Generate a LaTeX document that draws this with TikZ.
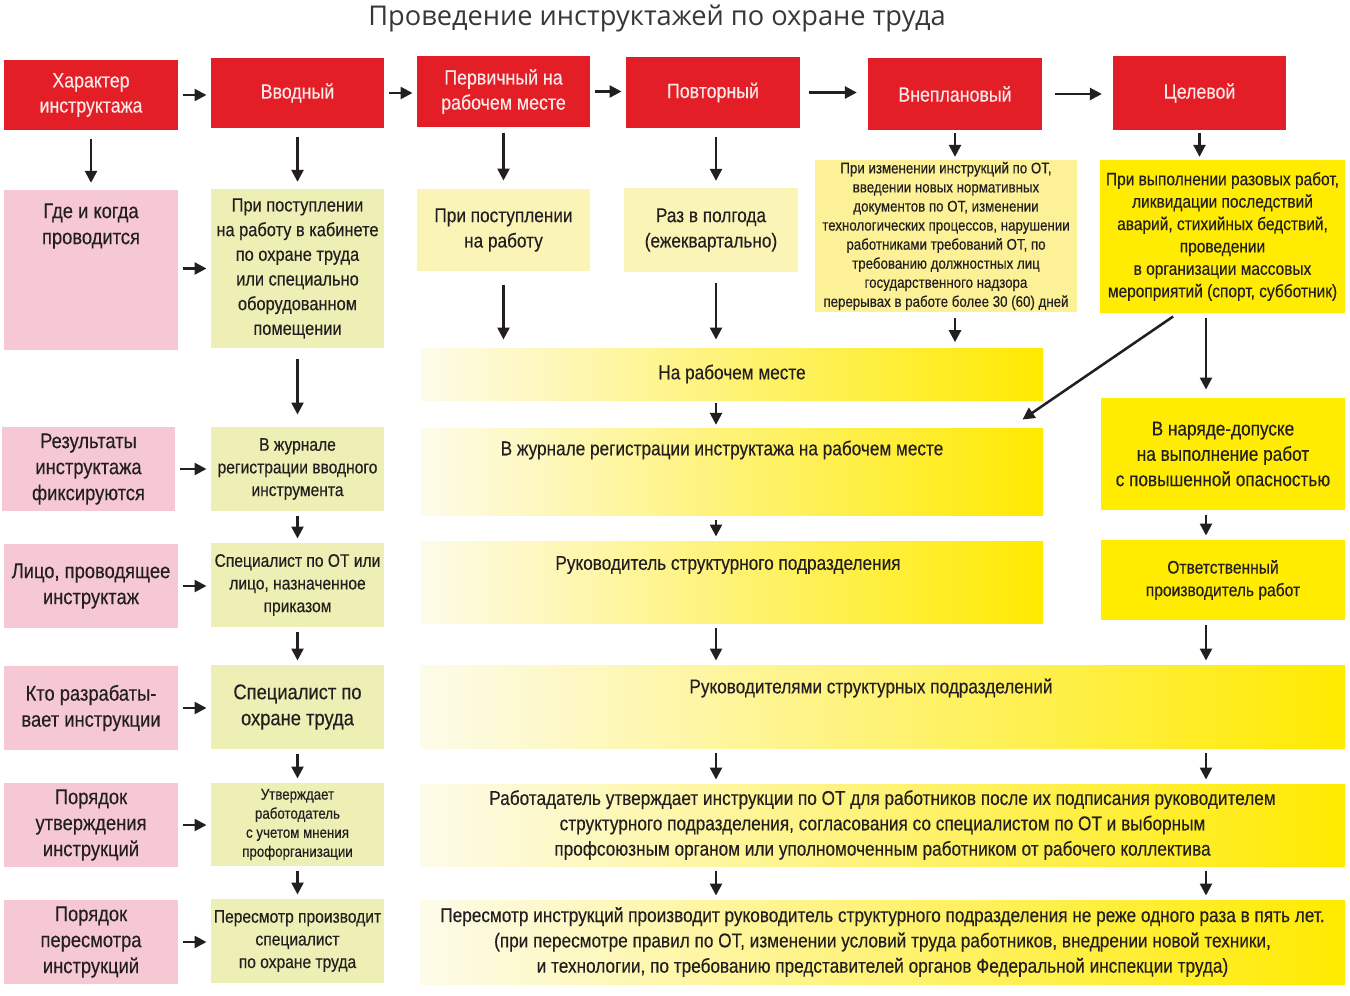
\documentclass[tikz,border=0pt]{standalone}
\usepackage{fontspec}
\setmainfont{Liberation Sans}[FakeStretch=0.86,FakeBold=0.3]
\newfontfamily\titlefont{Open Sans}
\usetikzlibrary{arrows.meta,calc}

\definecolor{redbg}{RGB}{228,30,38}
\definecolor{redtxt}{RGB}{252,232,232}
\definecolor{pinkbg}{RGB}{245,200,212}
\definecolor{greenbg}{RGB}{237,239,180}
\definecolor{paleY}{RGB}{250,244,182}
\definecolor{midY}{RGB}{252,241,150}
\definecolor{brightY}{RGB}{255,236,0}
\definecolor{gL}{RGB}{253,251,234}
\definecolor{gM}{RGB}{249,243,175}
\definecolor{gR}{RGB}{255,234,0}
\definecolor{txt}{RGB}{35,31,32}

\newcommand\fred{\fontsize{15.5}{18.8}\selectfont}
\newcommand\fpink{\fontsize{16}{19.5}\selectfont}
\newcommand\fbody{\fontsize{15}{19}\selectfont}
\newcommand\fgreen{\fontsize{14.3}{18.5}\selectfont}
\newcommand\fmid{\fontsize{13.6}{17}\selectfont}
\newcommand\fcel{\fontsize{13.5}{16.8}\selectfont}
\newcommand\fsmall{\fontsize{11.6}{14.3}\selectfont}

\tikzset{every picture/.style={line width=0.75pt}}
\tikzset{
  sz/.style 2 args={minimum width=#1*0.75pt, minimum height=#2*0.75pt},
  box/.style={inner sep=0pt, align=center, text=txt},
  redbox/.style={box, fill=redbg, text=redtxt, font=\fred},
  pinkbox/.style={box, fill=pinkbg, font=\fpink},
  greenbox/.style={box, fill=greenbg, font=\fgreen},
  palebox/.style={box, fill=paleY, font=\fbody},
  yelbox/.style={box, fill=brightY, font=\fbody},
  gradbox/.style={box, left color=gL, middle color=gM, right color=gR, font=\fbody},
  txtnode/.style={inner sep=0pt, align=center, text=txt, font=\fbody},
  arr/.style={line width=1.9pt, draw=txt, -{Triangle[length=9pt,width=9pt]}, shorten <=3pt, shorten >=3pt},
}

\begin{document}
\begin{tikzpicture}[x=0.75pt,y=0.75pt,yscale=-1,xscale=1]
	\fill[white] (0,0) rectangle (1350,996);
	\useasboundingbox (0,0) rectangle (1350,996);

	% Title
	\node[text={rgb,255:red,55;green,55;blue,55}, font=\titlefont\fontsize{20.4}{23}\selectfont] (title) at (657,18) {Проведение инструктажей по охране труда};

	% columns for arrows into the wide boxes
	\coordinate (k1) at (716,0);
	\coordinate (k2) at (1206,0);

	% Red header row
	\node[redbox, sz={174}{70}] (xar) at (91,95) {Характер\\инструктажа};
	\node[redbox, sz={173}{70}] (vvod) at (297.5,93) {Вводный};
	\node[redbox, sz={173}{71}] (perv) at (503.5,91.5) {Первичный на\\рабочем месте};
	\node[redbox, sz={174}{71}] (povt) at (713,92.5) {Повторный};
	\node[redbox, sz={174}{72}] (vnep) at (955,94) {Внеплановый};
	\node[redbox, sz={173}{74}] (cel) at (1199.5,93) {Целевой};

	% Where and when
	\node[pinkbox, sz={174}{160}] (gde) at (91,270) {};
	\node[txtnode, font=\fpink] (gdeT) at (91,226) {Где и когда\\проводится};
	\node[greenbox, sz={173}{159}] (vvodG) at (297.5,268.5) {При поступлении\\на работу в кабинете\\по охране труда\\или специально\\оборудованном\\помещении};
	\node[palebox, sz={173}{82}] (pervY) at (503.5,230) {При поступлении\\на работу};
	\node[palebox, sz={174}{84}] (povtY) at (711,230) {Раз в полгода\\(ежеквартально)};
	\node[box, fill=midY, font=\fsmall, sz={262}{152}] (vnepY) at (946,236) {При изменении инструкций по ОТ,\\введении новых нормативных\\документов по ОТ, изменении\\технологических процессов, нарушении\\работниками требований ОТ, по\\требованию должностных лиц\\государственного надзора\\перерывах в работе более 30 (60) дней};
	\node[yelbox, font=\fcel, sz={245}{153}] (celY) at (1222.5,236.5) {При выполнении разовых работ,\\ликвидации последствий\\аварий, стихийных бедствий,\\проведении\\в организации массовых\\мероприятий (спорт, субботник)};

	\node[gradbox, sz={622}{52}] (rm) at (732,374) {На рабочем месте};
	\node[yelbox, sz={244}{112}] (naryad) at (1223,454) {В наряде-допуске\\на выполнение работ\\с повышенной опасностью};

	% Results
	\node[pinkbox, sz={173}{84}] (rez) at (88.5,469) {Результаты\\инструктажа\\фиксируются};
	\node[greenbox, font=\fmid, sz={173}{84}] (zhurV) at (297.5,469) {В журнале\\регистрации вводного\\инструмента};
	\node[gradbox, sz={622}{87}] (zhur) at (732,471.5) {};
	\node[txtnode] (zhurT) at (722,450) {В журнале регистрации инструктажа на рабочем месте};

	% Person
	\node[pinkbox, sz={174}{84}] (lico) at (91,586) {Лицо, проводящее\\инструктаж};
	\node[greenbox, font=\fmid, sz={173}{84}] (specOT) at (297.5,585) {Специалист по ОТ или\\лицо, назначенное\\приказом};
	\node[gradbox, sz={622}{82}] (ruk) at (732,582) {};
	\node[txtnode] (rukT) at (728,565) {Руководитель структурного подразделения};
	\node[yelbox, font=\fmid, sz={244}{80}] (otv) at (1223,580) {Ответственный\\производитель работ};

	% Who develops
	\node[pinkbox, sz={174}{84}] (kto) at (91,708) {Кто разрабаты-\\вает инструкции};
	\node[greenbox, font=\fpink, sz={173}{84}] (specOhr) at (297.5,707) {Специалист по\\охране труда};
	\node[gradbox, sz={925}{83}] (rukS) at (882.5,706.5) {};
	\node[txtnode] (rukST) at (871,688) {Руководителями структурных подразделений};

	% Approval
	\node[pinkbox, sz={174}{84}] (por1) at (91,825) {Порядок\\утверждения\\инструкций};
	\node[greenbox, font=\fsmall, sz={173}{83}] (utv) at (297.5,824.5) {Утверждает\\работодатель\\с учетом мнения\\профорганизации};
	\node[gradbox, sz={925}{82}] (rabot) at (882.5,825) {Работадатель утверждает инструкции по ОТ для работников после их подписания руководителем\\структурного подразделения, согласования со специалистом по ОТ и выборным\\профсоюзным органом или уполномоченным работником от рабочего коллектива};

	% Revision
	\node[pinkbox, sz={174}{84}] (por2) at (91,942) {Порядок\\пересмотра\\инструкций};
	\node[greenbox, font=\fmid, sz={173}{84}] (peresm) at (297.5,941) {Пересмотр производит\\специалист\\по охране труда};
	\node[gradbox, sz={925}{84}] (peresmR) at (882.5,942) {Пересмотр инструкций производит руководитель структурного подразделения не реже одного раза в пять лет.\\(при пересмотре правил по ОТ, изменении условий труда работников, внедрении новой техники,\\и технологии, по требованию представителей органов Федеральной инспекции труда)};

	% Header arrows
	\draw[arr] (xar.east) -- (vvod.west |- xar.east);
	\draw[arr] (vvod.east) -- (perv.west |- vvod.east);
	\draw[arr] (perv.east) -- (povt.west |- perv.east);
	\draw[arr, shorten <=6pt, shorten >=8pt] (povt.east) -- (vnep.west |- povt.east);
	\draw[arr, shorten <=9pt, shorten >=8pt] (vnep.east) -- (cel.west |- vnep.east);

	% Down from the header
	\draw[arr, shorten <=6pt, shorten >=5pt] (xar.south) -- (gde.north);
	\draw[arr, shorten <=6pt, shorten >=5pt] (vvod.south) -- (vvod.south |- vvodG.north);
	\draw[arr, shorten <=4pt, shorten >=6pt] (perv.south) -- (pervY.north);
	\draw[arr, shorten <=6pt, shorten >=5pt] (povt.south -| k1) -- (povtY.north -| k1);
	\draw[arr, shorten <=2pt, shorten >=2pt] (vnep.south) -- (vnep.south |- vnepY.north);
	\draw[arr, shorten <=2pt, shorten >=2pt] (cel.south) -- (cel.south |- celY.north);

	% Left column: labels to values
	\draw[arr] (gde.east |- vvodG.east) -- (vvodG.west);
	\draw[arr] (rez.east) -- (rez.east -| zhurV.west);
	\draw[arr] (lico.east) -- (lico.east -| specOT.west);
	\draw[arr] (kto.east) -- (kto.east -| specOhr.west);
	\draw[arr] (por1.east) -- (por1.east -| utv.west);
	\draw[arr] (por2.east) -- (por2.east -| peresm.west);

	% Induction column
	\draw[arr, shorten <=8pt, shorten >=9pt] (vvodG.south) -- (zhurV.north);
	\draw[arr] (zhurV.south) -- (specOT.north);
	\draw[arr] (specOT.south) -- (specOhr.north);
	\draw[arr] (specOhr.south) -- (utv.north);
	\draw[arr] (utv.south) -- (peresm.north);

	% Workplace columns
	\draw[arr, shorten <=10pt, shorten >=6pt] (pervY.south) -- (pervY.south |- rm.north);
	\draw[arr, shorten <=8pt, shorten >=6pt] (povtY.south -| k1) -- (rm.north -| k1);
	\draw[arr, shorten <=4pt, shorten >=4pt] (vnepY.south -| vnep.south) -- (vnep.south |- rm.north);
	\draw[arr, shorten <=2pt, shorten >=2pt] (rm.south -| k1) -- (zhur.north -| k1);
	\draw[arr] (zhur.south -| k1) -- (ruk.north -| k1);
	\draw[arr] (ruk.south -| k1) -- (rukS.north -| k1);
	\draw[arr] (rukS.south -| k1) -- (rabot.north -| k1);
	\draw[arr] (rabot.south -| k1) -- (peresmR.north -| k1);

	% Target column
	\draw[arr, shorten <=3pt, shorten >=6pt] (celY.south -| k2) -- (naryad.north -| k2);
	\draw[arr, shorten <=4pt, shorten >=0pt] ($(celY.south west)+(78,0)$) -- ($(zhur.north east)+(-21,-8)$);
	\draw[arr] (naryad.south -| k2) -- (otv.north -| k2);
	\draw[arr] (otv.south -| k2) -- (rukS.north -| k2);
	\draw[arr] (rukS.south -| k2) -- (rabot.north -| k2);
	\draw[arr] (rabot.south -| k2) -- (peresmR.north -| k2);

\end{tikzpicture}
\end{document}
